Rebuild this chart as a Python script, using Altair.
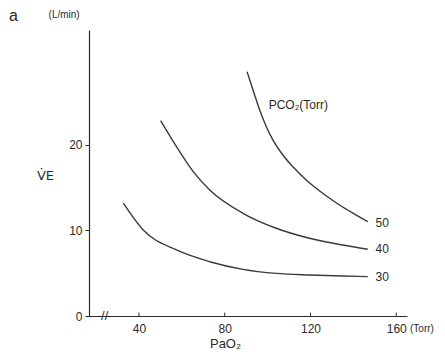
import altair as alt
import pandas as pd

# Data
pao2_30 = [32.7, 42.0, 57.5, 73.0, 88.5, 104.0, 119.5, 135.0, 146.7]
ve_30 = [13.2, 10.06, 7.72, 6.35, 5.46, 4.99, 4.80, 4.68, 4.60]
pao2_40 = [50.1, 57.5, 65.3, 73.0, 88.5, 104.0, 119.5, 135.0, 146.7]
ve_40 = [22.84, 19.8, 16.88, 14.74, 12.01, 10.26, 9.09, 8.30, 7.80]
pao2_50 = [90.4, 93.2, 96.3, 99.4, 102.5, 107.1, 111.8, 118.0, 125.7, 133.5, 141.3, 146.7]
ve_50 = [28.57, 26.43, 24.09, 22.14, 20.58, 18.83, 17.46, 15.91, 14.35, 12.98, 11.81, 11.03]

series_labels = ["30", "40", "50"]
x_ticks = [40, 80, 120, 160]
y_ticks = [0, 10, 20]

FONT = "Liberation Sans"
INK = "#2a2a2a"

rows = []
for lab, xs_, ys_ in zip(series_labels, [pao2_30, pao2_40, pao2_50], [ve_30, ve_40, ve_50]):
    for i, (x, y) in enumerate(zip(xs_, ys_)):
        rows.append({"pco2": lab, "pao2": x, "ve": y, "order": i})
df = pd.DataFrame(rows)

end_df = pd.DataFrame({
    "pco2": series_labels,
    "pao2": [150.3, 150.3, 150.3],
    "ve": [4.56, 7.84, 10.9],
})

xs = alt.Scale(domain=[16.7, 165], nice=False, zero=False)
ys = alt.Scale(domain=[0, 33.45], nice=False)

X = alt.X("pao2:Q", scale=xs, axis=alt.Axis(
    values=x_ticks, ticks=False, grid=False, domainColor=INK, domainWidth=1.2,
    labelFont=FONT, labelFontSize=12, labelColor=INK, labelPadding=7,
    title="PaO₂", titleFont=FONT, titleFontSize=13, titleFontWeight="normal",
    titleColor=INK, titleX=136, titleY=27, titleAnchor="start", titleAlign="center",
    titleBaseline="middle"))
Y = alt.Y("ve:Q", scale=ys, axis=alt.Axis(
    values=y_ticks, grid=False, domainColor=INK, domainWidth=1.2, tickColor=INK,
    tickSize=4, labelFont=FONT, labelFontSize=12, labelColor=INK, labelPadding=3,
    title="V̇E", titleFont="DejaVu Sans", titleFontSize=13, titleFontWeight="normal",
    titleColor=INK, titleAngle=0, titleX=-44, titleY=145, titleAlign="center",
    titleBaseline="middle"))

lines = alt.Chart(df).mark_line(
    interpolate="monotone", color="#3a3a3a", strokeWidth=1.4
).encode(x=X, y=Y, detail="pco2:N", order="order:Q")

end_labels = alt.Chart(end_df).mark_text(
    align="left", baseline="middle", font=FONT, fontSize=12, color=INK
).encode(x=alt.X("pao2:Q", scale=xs), y=alt.Y("ve:Q", scale=ys), text="pco2:N")

tick_df = pd.DataFrame({"pao2": x_ticks, "y0": [0] * 4, "y1": [0.4] * 4})
xticks = alt.Chart(tick_df).mark_rule(color=INK, strokeWidth=1).encode(
    x=alt.X("pao2:Q", scale=xs), y=alt.Y("y0:Q", scale=ys), y2="y1:Q")

ann_df = pd.DataFrame({
    "pao2": [100.5, 166.4, 5.1, -18.5, 24.0],
    "ve": [24.7, 0.0, 35.2, 35.05, 0.0],
    "txt": ["PCO₂(Torr)", "(Torr)", "(L/min)", "a", "//"],
    "size": [12, 10, 10, 16, 13],
    "dy": [0, 13, 0, 0, 0],
})

def ann(i, align="left"):
    r = ann_df.iloc[[i]]
    return alt.Chart(r).mark_text(
        align=align, baseline="middle", font=FONT, fontSize=int(r["size"].iloc[0]),
        color=INK, clip=False, dy=int(r["dy"].iloc[0])
    ).encode(x=alt.X("pao2:Q", scale=xs), y=alt.Y("ve:Q", scale=ys), text="txt:N")

chart = alt.layer(
    lines, end_labels, xticks,
    ann(0), ann(1), ann(2, "center"), ann(3, "center"), ann(4, "center"),
).properties(
    width=318, height=286,
    autosize=alt.AutoSizeParams(type="none"),
    padding={"left": 81, "top": 22, "right": 30, "bottom": 36},
    background="white",
).configure_view(stroke=None)

chart.save("out.html", embed_options={"renderer": "svg", "actions": False})
